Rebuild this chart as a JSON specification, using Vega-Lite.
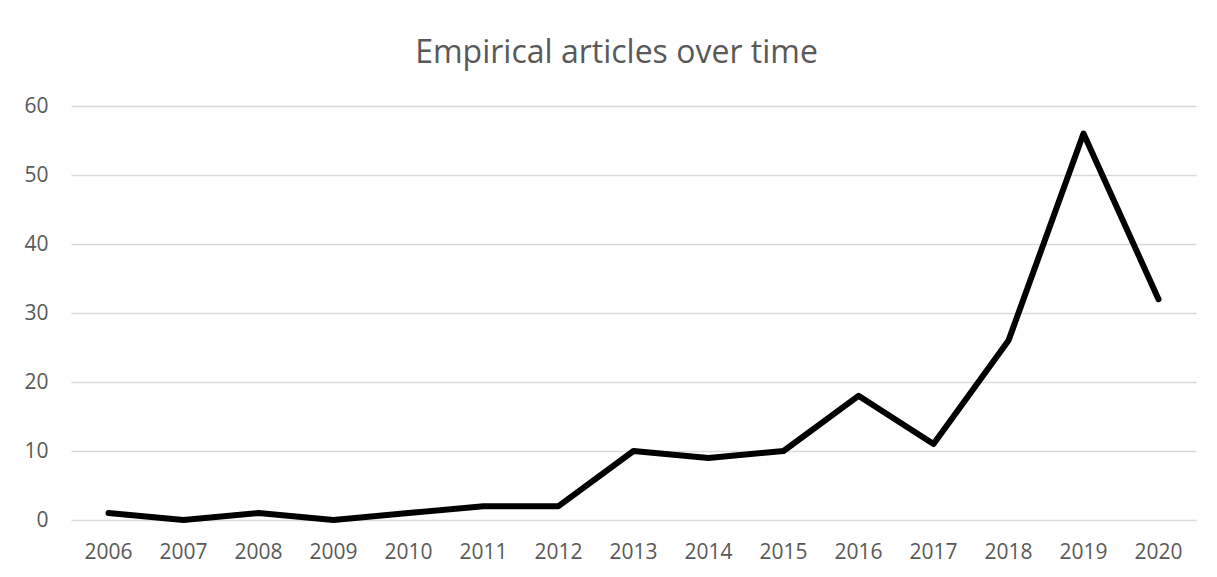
{
  "$schema": "https://vega.github.io/schema/vega-lite/v6.json",
  "autosize": {"type": "none"},
  "padding": {"left": 71, "top": 106, "right": 21, "bottom": 57},
  "width": 1125,
  "height": 414,
  "background": "white",
  "title": {
    "text": "Empirical articles over time",
    "font": "Open Sans",
    "fontSize": 32,
    "fontWeight": "normal",
    "color": "#595959",
    "anchor": "middle",
    "baseline": "alphabetic",
    "offset": 0,
    "dx": -17
  },
  "data": {
    "values": [
      {"year": "2006", "articles": 1},
      {"year": "2007", "articles": 0},
      {"year": "2008", "articles": 1},
      {"year": "2009", "articles": 0},
      {"year": "2010", "articles": 1},
      {"year": "2011", "articles": 2},
      {"year": "2012", "articles": 2},
      {"year": "2013", "articles": 10},
      {"year": "2014", "articles": 9},
      {"year": "2015", "articles": 10},
      {"year": "2016", "articles": 18},
      {"year": "2017", "articles": 11},
      {"year": "2018", "articles": 26},
      {"year": "2019", "articles": 56},
      {"year": "2020", "articles": 32}
    ]
  },
  "mark": {"type": "line", "color": "black", "strokeWidth": 6, "strokeJoin": "round", "strokeCap": "round"},
  "encoding": {
    "x": {
      "field": "year",
      "type": "ordinal",
      "scale": {"type": "band", "paddingInner": 0, "paddingOuter": 0},
      "axis": {
        "title": null,
        "domain": false,
        "ticks": false,
        "grid": false,
        "labelAngle": 0,
        "labelFont": "Open Sans",
        "labelFontSize": 21,
        "labelColor": "#595959",
        "labelPadding": 21
      }
    },
    "y": {
      "field": "articles",
      "type": "quantitative",
      "scale": {"domain": [0, 60], "nice": false},
      "axis": {
        "title": null,
        "domain": false,
        "ticks": false,
        "values": [0, 10, 20, 30, 40, 50, 60],
        "gridColor": "#d9d9d9",
        "gridWidth": 1.5,
        "labelFont": "Open Sans",
        "labelFontSize": 21,
        "labelColor": "#595959",
        "labelPadding": 23
      }
    }
  },
  "config": {"view": {"stroke": null}}
}
